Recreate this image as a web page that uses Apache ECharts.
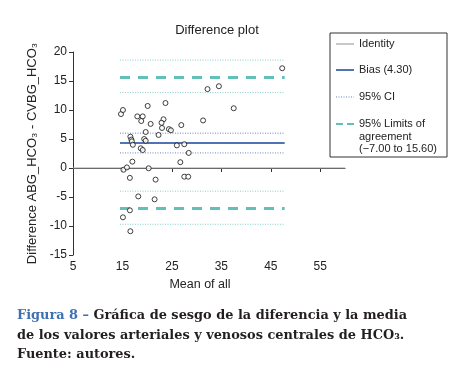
<!DOCTYPE html>
<html>
<head>
<meta charset="utf-8">
<script src="https://cdn.jsdelivr.net/npm/echarts@6/dist/echarts.min.js"></script>
<style>
  html, body { margin: 0; padding: 0; background: #fff; }
  #chart { width: 450px; height: 369px; }
</style>
</head>
<body>
<div id="chart"></div>
<script>
// mean of the two measurements (x) and their difference (y)
const meanVals = [47.3, 32.2, 34.5, 37.5, 14.7, 15.1, 20.1, 23.7, 18.0, 19.1,
  18.8, 20.7, 23.3, 22.9, 23.0, 24.4, 24.8, 26.9, 31.3, 19.7,
  22.3, 16.6, 16.8, 16.9, 19.4, 19.7, 17.1, 18.7, 19.1, 26.0,
  27.5, 28.4, 17.0, 26.7, 20.3, 15.2, 15.9, 16.5, 21.7, 27.5,
  28.3, 18.2, 21.5, 16.5, 15.1, 16.6];
const diffVals = [17.2, 13.6, 14.1, 10.3, 9.3, 10.0, 10.7, 11.2, 8.9, 8.9,
  8.1, 7.6, 8.4, 7.8, 6.9, 6.7, 6.5, 7.4, 8.2, 6.2,
  5.7, 5.4, 4.9, 4.6, 5.0, 4.7, 4.0, 3.4, 3.1, 3.9,
  4.1, 2.6, 1.1, 1.0, -0.05, -0.3, 0.1, -1.7, -2.0, -1.5,
  -1.5, -4.9, -5.4, -7.3, -8.5, -10.9];

const bias = 4.3;
const biasCI = [2.6, 6.0];
const limits = [-7.0, 15.6];
const lowerCI = [-9.7, -4.0];
const upperCI = [13.0, 18.6];
const lineSpan = [14.5, 47.8];
const identitySpan = [5, 60];
const xTicks = [5, 15, 25, 35, 45, 55];

const font = 'Liberation Sans, Arial, sans-serif';
const blue = '#4f73b5';
const teal = '#62c0b8';
const dotBlue = '#6f80c4';
const dotTeal = '#86cdc6';

const points = meanVals.map((m, i) => [m, diffVals[i]]);

const hline = (y, span, color, width, type) => ({
    type: 'line',
    data: [[span[0], y], [span[1], y]],
    symbol: 'none',
    silent: true,
    lineStyle: {color: color, width: width, type: type},
    z: 1
});

const series = [
    hline(0, identitySpan, '#a3a3a3', 1.2, 'solid'),
    hline(upperCI[0], lineSpan, dotTeal, 1, [1, 1.5]),
    hline(upperCI[1], lineSpan, dotTeal, 1, [1, 1.5]),
    hline(lowerCI[0], lineSpan, dotTeal, 1, [1, 1.5]),
    hline(lowerCI[1], lineSpan, dotTeal, 1, [1, 1.5]),
    hline(biasCI[0], lineSpan, dotBlue, 1, [1, 1.5]),
    hline(biasCI[1], lineSpan, dotBlue, 1, [1, 1.5]),
    hline(limits[0], lineSpan, teal, 3, [10, 8]),
    hline(limits[1], lineSpan, teal, 3, [10, 8]),
    hline(bias, lineSpan, blue, 2, 'solid'),
    {
        type: 'scatter',
        data: points,
        symbol: 'circle',
        symbolSize: 5,
        itemStyle: {color: '#fff', borderColor: '#111', borderWidth: 1},
        z: 5
    }
];

// legend box drawn by hand
const lx = 336, lx2 = 354, tx = 359;
const legendItems = [
    {type: 'rect', shape: {x: 330, y: 33, width: 117, height: 124},
        style: {fill: '#fff', stroke: '#333', lineWidth: 1}},
    {type: 'line', shape: {x1: lx, y1: 44, x2: lx2, y2: 44}, style: {stroke: '#a3a3a3', lineWidth: 1.2}},
    {type: 'line', shape: {x1: lx, y1: 70, x2: lx2, y2: 70}, style: {stroke: blue, lineWidth: 2}},
    {type: 'line', shape: {x1: lx, y1: 97, x2: lx2, y2: 97}, style: {stroke: dotBlue, lineWidth: 1, lineDash: [1, 1.5]}},
    {type: 'line', shape: {x1: lx, y1: 124, x2: lx2, y2: 124}, style: {stroke: teal, lineWidth: 2, lineDash: [7, 4]}},
    {type: 'text', x: tx, y: 44, style: {text: 'Identity', font: '11px ' + font, fill: '#222', verticalAlign: 'middle'}},
    {type: 'text', x: tx, y: 70, style: {text: 'Bias (4.30)', font: '11px ' + font, fill: '#222', verticalAlign: 'middle'}},
    {type: 'text', x: tx, y: 97, style: {text: '95% CI', font: '11px ' + font, fill: '#222', verticalAlign: 'middle'}},
    {type: 'text', x: tx, y: 118, style: {text: '95% Limits of\nagreement\n(\u22127.00 to 15.60)',
        font: '11px ' + font, fill: '#222', verticalAlign: 'top', lineHeight: 12.5}}
];

const capFont = 'bold 12.9px DejaVu Serif, serif';
const caption = {
    type: 'text', left: 17, top: 306,
    style: {
        text: '{b|Figura 8 \u2013} Gráfica de sesgo de la diferencia y la media\nde los valores arteriales y venosos centrales de HCO\u2083.\nFuente: autores.',
        font: capFont,
        fill: '#231f20',
        lineHeight: 19.5,
        rich: {b: {fill: '#3f70b0', font: capFont}}
    }
};

const chart = echarts.init(document.getElementById('chart'), null, {renderer: 'canvas'});
chart.setOption({
    animation: false,
    backgroundColor: '#fff',
    title: {
        text: 'Difference plot',
        left: 212, top: 19,
        textAlign: 'center',
        textStyle: {fontFamily: font, fontSize: 13, fontWeight: 'normal', color: '#222'}
    },
    grid: {left: 73, right: 105, top: 52, bottom: 114},
    xAxis: {
        type: 'value', min: 5, max: 60,
        name: 'Mean of all', nameLocation: 'middle', nameGap: 22,
        nameTextStyle: {fontFamily: font, fontSize: 12.5, color: '#222', padding: [0, 18, 0, 0]},
        splitLine: {show: false},
        axisLine: {lineStyle: {color: '#333', width: 1}},
        axisTick: {show: true, length: 4, customValues: xTicks, lineStyle: {color: '#333'}},
        axisLabel: {customValues: xTicks, fontFamily: font, fontSize: 12, color: '#222', margin: 6}
    },
    yAxis: {
        type: 'value', min: -15, max: 20, interval: 5,
        name: 'Difference ABG_HCO\u2083 - CVBG_HCO\u2083', nameLocation: 'middle', nameGap: 29, nameRotate: 90,
        nameTextStyle: {fontFamily: font, fontSize: 13, color: '#222'},
        splitLine: {show: false},
        axisLine: {show: true, lineStyle: {color: '#333', width: 1}},
        axisTick: {show: true, length: 4, lineStyle: {color: '#333'}},
        axisLabel: {fontFamily: font, fontSize: 12, color: '#222', margin: 6}
    },
    series: series,
    graphic: legendItems.concat([caption])
});
</script>
</body>
</html>
